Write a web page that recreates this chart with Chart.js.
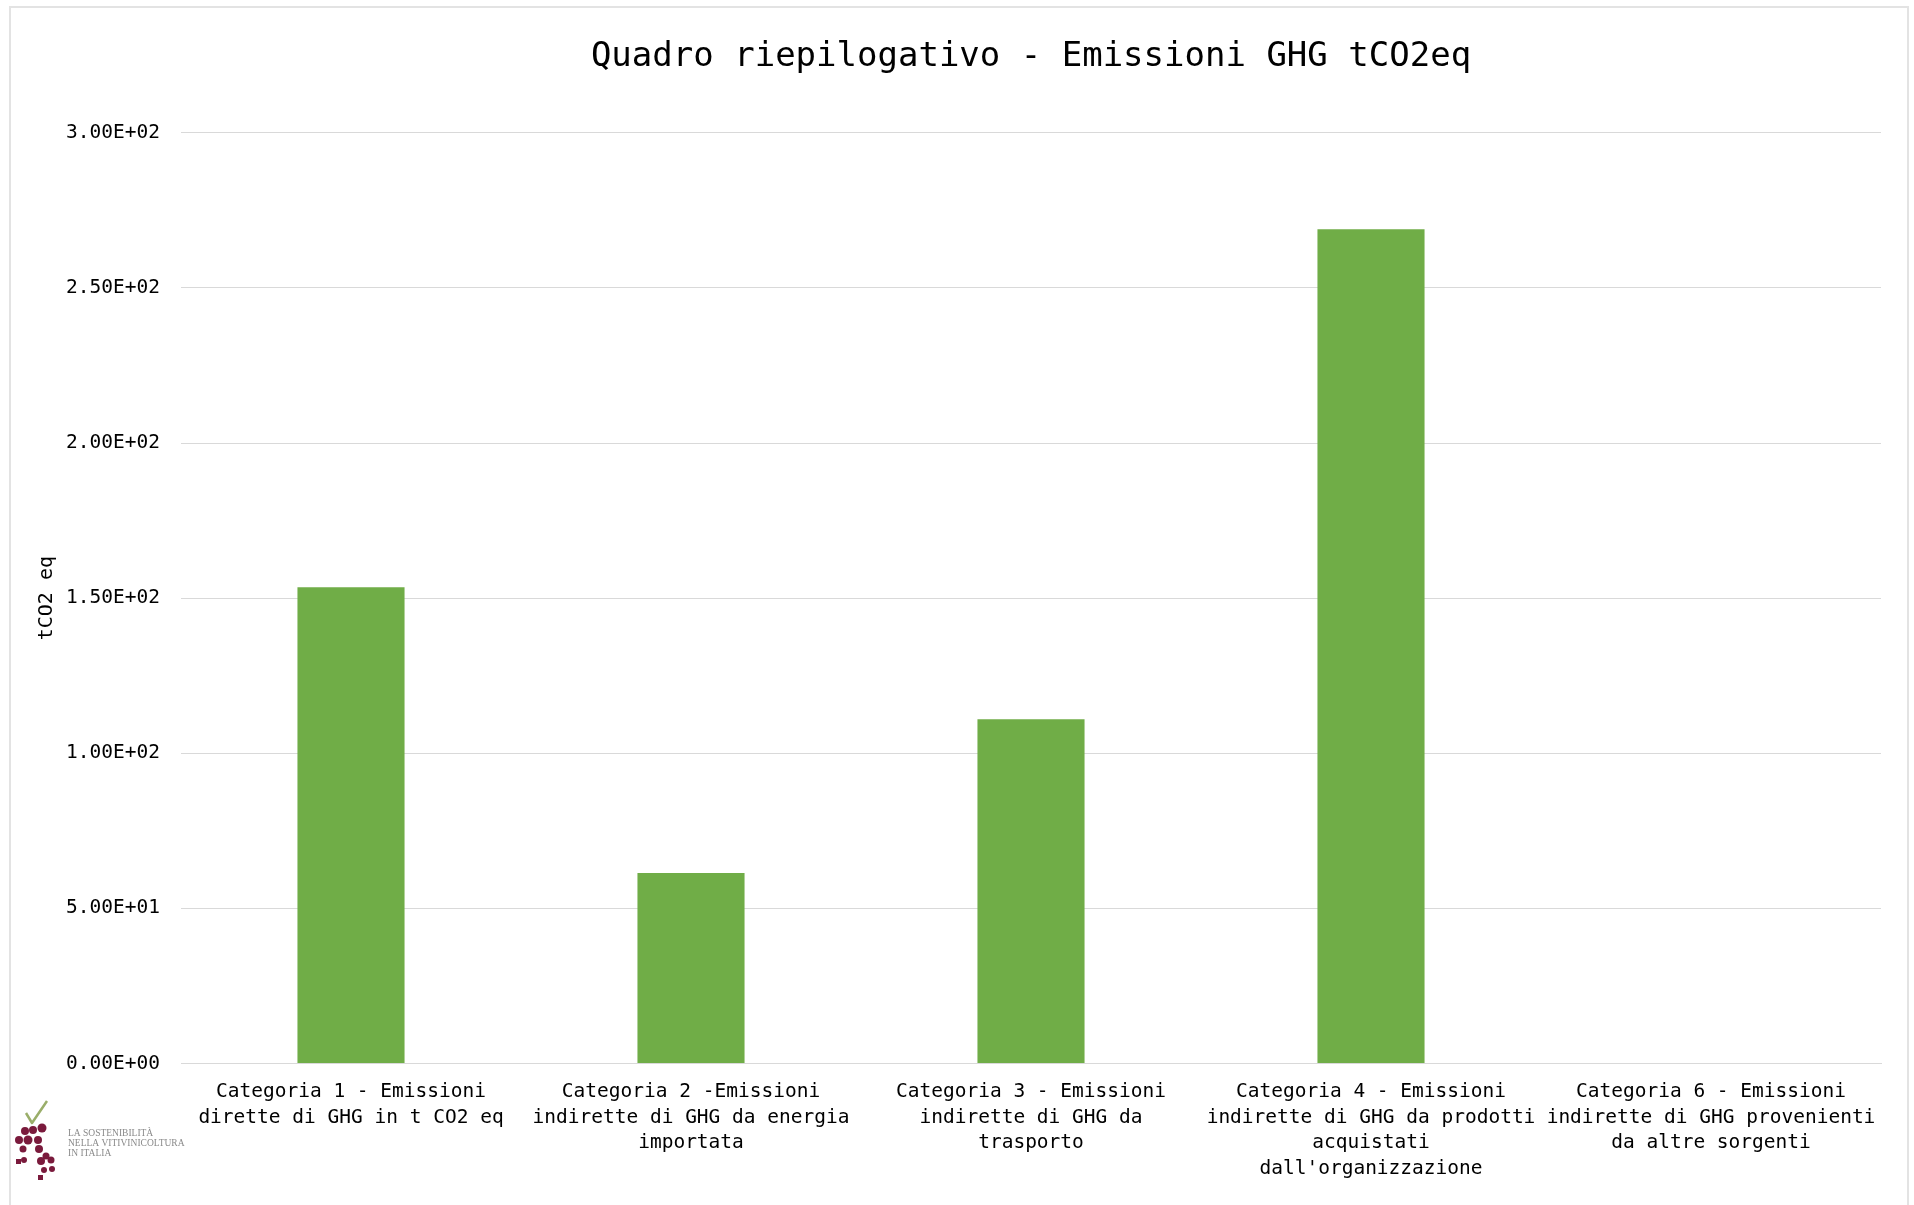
<!DOCTYPE html>
<html lang="it">
<head>
<meta charset="utf-8">
<title>Quadro riepilogativo - Emissioni GHG tCO2eq</title>
<script src="https://cdn.jsdelivr.net/npm/chart.js@4.4.1/dist/chart.umd.min.js"></script>
<style>
  html, body { margin: 0; padding: 0; background: #ffffff; }
  #frame {
    position: absolute; left: 9px; top: 6px; width: 1900px; height: 1220px;
    border: 2px solid #e3e3e3; box-sizing: border-box; pointer-events: none;
  }
  #wrap { position: absolute; left: 0; top: 0; width: 1914px; height: 1205px; }
</style>
</head>
<body>
<div id="wrap"><canvas id="chart" width="1914" height="1205"></canvas></div>
<div id="frame"></div>
<script>
// Emission categories (multi-line axis labels)
const categories = [
  ["Categoria 1 - Emissioni", "dirette di GHG in t CO2 eq"],
  ["Categoria 2 -Emissioni", "indirette di GHG da energia", "importata"],
  ["Categoria 3 - Emissioni", "indirette di GHG da", "trasporto"],
  ["Categoria 4 - Emissioni", "indirette di GHG da prodotti", "acquistati", "dall'organizzazione"],
  ["Categoria 6 - Emissioni", "indirette di GHG provenienti", "da altre sorgenti"]
];

// Emissions in tCO2eq per category
const emissions = [153.5, 61.4, 111.0, 268.9, 0];

// Value axis ticks
const yTicks = [0, 50, 100, 150, 200, 250, 300];

const chartTitle = "Quadro riepilogativo - Emissioni GHG tCO2eq";
const yAxisTitle = "tCO2 eq";

// Scientific notation with a two-digit exponent, e.g. 2.50E+02
function sci(v) {
  const s = Number(v).toExponential(2).toUpperCase();
  const m = s.match(/^(-?[\d.]+)E([+-])(\d+)$/);
  if (!m) return s;
  return m[1] + "E" + m[2] + m[3].padStart(2, "0");
}

const MONO = "'DejaVu Sans Mono', 'Liberation Mono', monospace";

// Small vineyard logo in the bottom-left corner
const logoPlugin = {
  id: "logo",
  afterDraw(chart) {
    const ctx = chart.ctx;
    ctx.save();
    // check mark
    ctx.strokeStyle = "#9aae6a";
    ctx.lineWidth = 2.5;
    ctx.lineJoin = "round";
    ctx.beginPath();
    ctx.moveTo(26, 1113);
    ctx.lineTo(32, 1123);
    ctx.lineTo(47, 1101);
    ctx.stroke();
    // grape berries
    ctx.fillStyle = "#7a1a3c";
    const berries = [
      [25,1131,4],[33,1130,4],[42,1128,4.5],
      [19,1140,4],[28,1140,4.5],[38,1140,4],
      [23,1149,3.5],[39,1149,4],[46,1156,3.5],
      [24,1160,3],[41,1161,4],[51,1160,3.5],
      [52,1169,3],[44,1170,3]
    ];
    berries.forEach(([x, y, r]) => {
      ctx.beginPath(); ctx.arc(x, y, r, 0, Math.PI * 2); ctx.fill();
    });
    ctx.fillRect(38, 1175, 5, 5);
    ctx.fillRect(16, 1159, 5, 5);
    // logo lettering
    ctx.fillStyle = "#8a8a8a";
    ctx.font = "9.5px 'Liberation Serif', serif";
    ctx.textBaseline = "middle";
    ctx.fillText("LA SOSTENIBILITÀ", 68, 1133);
    ctx.fillText("NELLA VITIVINICOLTURA", 68, 1143);
    ctx.fillText("IN ITALIA", 68, 1153);
    ctx.restore();
  }
};

new Chart(document.getElementById("chart"), {
  type: "bar",
  data: {
    labels: categories,
    datasets: [{
      label: "tCO2eq",
      data: emissions,
      backgroundColor: "#70ad47",
      borderWidth: 0,
      categoryPercentage: 1.0,
      barPercentage: 0.315
    }]
  },
  options: {
    responsive: false,
    animation: false,
    layout: { padding: { left: 0, right: 33, top: 0, bottom: 0 } },
    plugins: {
      legend: { display: false },
      tooltip: { enabled: false },
      title: {
        display: true,
        fullSize: false,
        text: chartTitle,
        color: "#000000",
        font: { family: MONO, size: 34, weight: "normal" },
        padding: { top: 37, bottom: 55 }
      }
    },
    scales: {
      x: {
        grid: { display: false, drawTicks: false },
        border: { display: true, color: "#d9d9d9", width: 1 },
        ticks: {
          color: "#000000",
          font: { family: MONO, size: 19.5, lineHeight: 1.31 },
          maxRotation: 0,
          minRotation: 0,
          autoSkip: false,
          padding: 16
        },
        afterFit(scale) { scale.height = 141.5; }
      },
      y: {
        min: 0,
        max: 300,
        afterBuildTicks(scale) { scale.ticks = yTicks.map(v => ({ value: v })); },
        grid: { color: "#d9d9d9", lineWidth: 1, drawTicks: false },
        border: { display: false },
        ticks: {
          color: "#000000",
          font: { family: MONO, size: 19.5 },
          padding: 21,
          callback: (v) => sci(v)
        },
        title: {
          display: true,
          text: yAxisTitle,
          color: "#000000",
          font: { family: MONO, size: 20, weight: "normal" },
          padding: { top: 35, bottom: 0 }
        },
        afterFit(scale) { scale.width = 181; }
      }
    }
  },
  plugins: [logoPlugin]
});
</script>
</body>
</html>
